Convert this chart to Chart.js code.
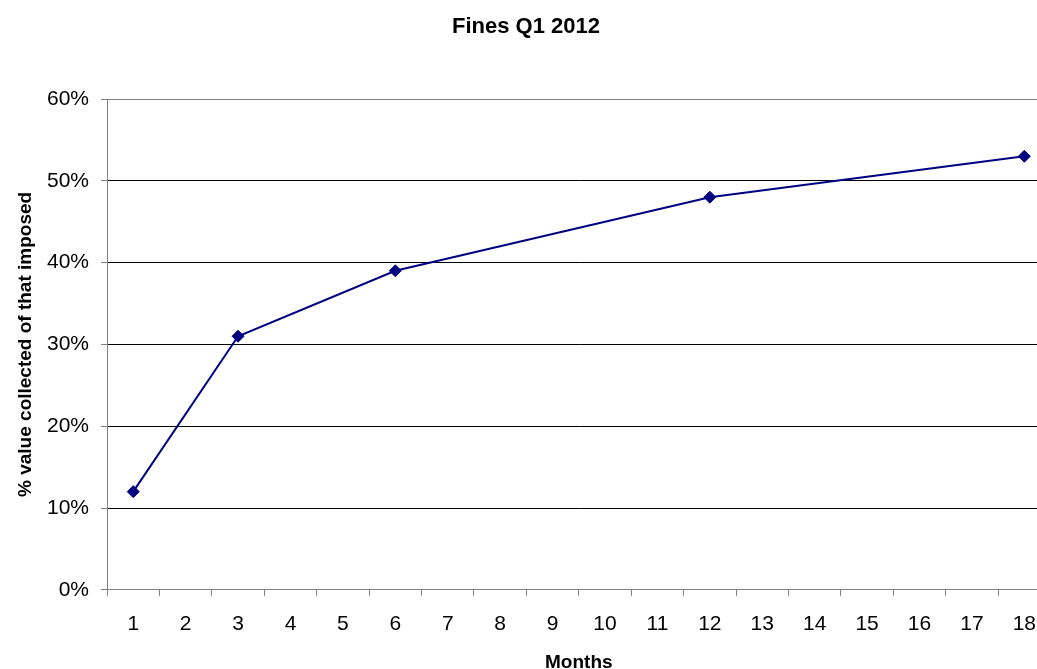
<!DOCTYPE html>
<html>
<head>
<meta charset="utf-8">
<script src="https://cdn.jsdelivr.net/npm/chart.js@4/dist/chart.umd.min.js"></script>
<style>
  html, body { margin: 0; padding: 0; background: #fff; overflow: hidden; }
  #chartBox { width: 1052px; height: 669px; }
</style>
</head>
<body>
<div id="chartBox"><canvas id="finesChart" width="1052" height="669"></canvas></div>
<script>
// months shown on the axis
var monthLabels = ['1', '2', '3', '4', '5', '6', '7', '8', '9', '10', '11', '12', '13', '14', '15', '16', '17', '18'];
// months that have a value, and the % collected at each
var months = ['1', '3', '6', '12', '18'];
var collected = [12, 31, 39, 48, 53];

var points = months.map(function (m, i) { return { x: m, y: collected[i] }; });

Chart.defaults.font.family = "Arial, 'Liberation Sans', sans-serif";
Chart.defaults.color = '#000';

new Chart(document.getElementById('finesChart'), {
    type: 'line',
    data: {
        labels: monthLabels,
        datasets: [{
            data: points,
            borderColor: '#000080',
            backgroundColor: '#000080',
            borderWidth: 2,
            pointStyle: 'rectRot',
            pointRadius: 6,
            pointBorderWidth: 1,
            pointHoverRadius: 6,
            tension: 0,
            fill: false,
            spanGaps: true
        }]
    },
    options: {
        responsive: false,
        animation: false,
        layout: { autoPadding: false, padding: 0 },
        plugins: {
            legend: { display: false },
            tooltip: { enabled: false },
            title: {
                display: true,
                text: 'Fines Q1 2012',
                color: '#000',
                font: { size: 22, weight: 'bold' },
                padding: { top: 14, bottom: 58.6 }
            }
        },
        scales: {
            x: {
                type: 'category',
                offset: true,
                grid: {
                    offset: true,
                    drawOnChartArea: false,
                    drawTicks: true,
                    tickLength: 6,
                    tickColor: '#808080',
                    tickWidth: 1
                },
                border: { color: '#808080', width: 1 },
                ticks: { font: { size: 21 }, color: '#000', padding: 16, maxRotation: 0, autoSkip: false },
                title: {
                    display: true,
                    text: 'Months',
                    color: '#000',
                    font: { size: 19, weight: 'bold', lineHeight: 1 },
                    padding: { top: 0, bottom: -3 }
                }
            },
            y: {
                min: 0,
                max: 60,
                grid: {
                    color: function (ctx) { return ctx.tick && ctx.tick.value === 60 ? '#808080' : '#000'; },
                    tickColor: '#808080',
                    tickLength: 6,
                    lineWidth: 1
                },
                border: { color: '#808080', width: 1 },
                ticks: {
                    stepSize: 10,
                    font: { size: 21 },
                    color: '#000',
                    padding: 12,
                    callback: function (v) { return v + '%'; }
                },
                title: {
                    display: true,
                    text: '% value collected of that imposed',
                    color: '#000',
                    font: { size: 19, weight: 'bold', lineHeight: 1 },
                    padding: { top: 16, bottom: 0 }
                }
            }
        }
    }
});
</script>
</body>
</html>
